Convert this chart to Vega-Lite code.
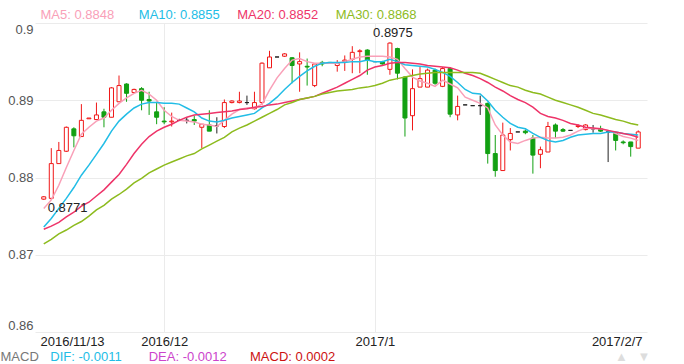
{
  "$schema": "https://vega.github.io/schema/vega-lite/v6.json",
  "width": 612,
  "height": 309,
  "autosize": {"type": "none"},
  "padding": {"left": 35, "top": 23, "right": 37, "bottom": 32},
  "background": "white",
  "config": {
    "view": {"stroke": null},
    "font": "Liberation Sans",
    "axis": {"gridColor": "#ebebeb", "gridWidth": 1, "domain": false, "ticks": false, "labelFontSize": 13, "labelFont": "Liberation Sans", "titleFont": "Liberation Sans"}
  },
  "resolve": {"axis": {"x": "independent"}},
  "datasets": {
    "k": [
      {"i":0,"o":0.8772,"h":0.8776,"l":0.8771,"c":0.8775,"ma5":0.8760,"ma10":0.8736,"ma20":0.8733,"ma30":0.8714},
      {"i":1,"o":0.8773,"h":0.8838,"l":0.8771,"c":0.8818,"ma5":0.8771,"ma10":0.8747,"ma20":0.8737,"ma30":0.8720},
      {"i":2,"o":0.8818,"h":0.8846,"l":0.8818,"c":0.8835,"ma5":0.8790,"ma10":0.8760,"ma20":0.8742,"ma30":0.8727},
      {"i":3,"o":0.8834,"h":0.8866,"l":0.8833,"c":0.8865,"ma5":0.8813,"ma10":0.8773,"ma20":0.8749,"ma30":0.8732},
      {"i":4,"o":0.8863,"h":0.8865,"l":0.8839,"c":0.8854,"ma5":0.8835,"ma10":0.8787,"ma20":0.8755,"ma30":0.8738},
      {"i":5,"o":0.8853,"h":0.8895,"l":0.8853,"c":0.8874,"ma5":0.8856,"ma10":0.8803,"ma20":0.8763,"ma30":0.8743},
      {"i":6,"o":0.8876,"h":0.8877,"l":0.8876,"c":0.8877,"ma5":0.8865,"ma10":0.8816,"ma20":0.8768,"ma30":0.8750},
      {"i":7,"o":0.8875,"h":0.8897,"l":0.8875,"c":0.8881,"ma5":0.8873,"ma10":0.8830,"ma20":0.8776,"ma30":0.8758},
      {"i":8,"o":0.8885,"h":0.8889,"l":0.8865,"c":0.8878,"ma5":0.8877,"ma10":0.8844,"ma20":0.8784,"ma30":0.8764},
      {"i":9,"o":0.8878,"h":0.8917,"l":0.8878,"c":0.8916,"ma5":0.8887,"ma10":0.8860,"ma20":0.8794,"ma30":0.8772},
      {"i":10,"o":0.8898,"h":0.8932,"l":0.8898,"c":0.8919,"ma5":0.8896,"ma10":0.8873,"ma20":0.8804,"ma30":0.8778},
      {"i":11,"o":0.8921,"h":0.8922,"l":0.8898,"c":0.8909,"ma5":0.8903,"ma10":0.8882,"ma20":0.8817,"ma30":0.8785},
      {"i":12,"o":0.8910,"h":0.8915,"l":0.8910,"c":0.8914,"ma5":0.8909,"ma10":0.8890,"ma20":0.8831,"ma30":0.8793},
      {"i":13,"o":0.8915,"h":0.8917,"l":0.8887,"c":0.8900,"ma5":0.8913,"ma10":0.8895,"ma20":0.8843,"ma30":0.8799},
      {"i":14,"o":0.8901,"h":0.8911,"l":0.8881,"c":0.8899,"ma5":0.8908,"ma10":0.8897,"ma20":0.8853,"ma30":0.8806},
      {"i":15,"o":0.8885,"h":0.8898,"l":0.8869,"c":0.8878,"ma5":0.8900,"ma10":0.8897,"ma20":0.8860,"ma30":0.8811},
      {"i":16,"o":0.8873,"h":0.8891,"l":0.8869,"c":0.8872,"ma5":0.8887,"ma10":0.8896,"ma20":0.8865,"ma30":0.8816},
      {"i":17,"o":0.8872,"h":0.8884,"l":0.8866,"c":0.8873,"ma5":0.8879,"ma10":0.8896,"ma20":0.8869,"ma30":0.8820},
      {"i":18,"o":0.8874,"h":0.8876,"l":0.8873,"c":0.8874,"ma5":0.8874,"ma10":0.8895,"ma20":0.8874,"ma30":0.8824},
      {"i":19,"o":0.8874,"h":0.8878,"l":0.8870,"c":0.8874,"ma5":0.8873,"ma10":0.8890,"ma20":0.8878,"ma30":0.8828},
      {"i":20,"o":0.8875,"h":0.8880,"l":0.8868,"c":0.8873,"ma5":0.8872,"ma10":0.8885,"ma20":0.8881,"ma30":0.8831},
      {"i":21,"o":0.8865,"h":0.8869,"l":0.8838,"c":0.8869,"ma5":0.8869,"ma10":0.8877,"ma20":0.8882,"ma30":0.8837},
      {"i":22,"o":0.8868,"h":0.8887,"l":0.8860,"c":0.8860,"ma5":0.8868,"ma10":0.8873,"ma20":0.8883,"ma30":0.8842},
      {"i":23,"o":0.8867,"h":0.8878,"l":0.8857,"c":0.8867,"ma5":0.8866,"ma10":0.8872,"ma20":0.8884,"ma30":0.8847},
      {"i":24,"o":0.8866,"h":0.8901,"l":0.8864,"c":0.8897,"ma5":0.8874,"ma10":0.8874,"ma20":0.8885,"ma30":0.8852},
      {"i":25,"o":0.8897,"h":0.8900,"l":0.8896,"c":0.8899,"ma5":0.8882,"ma10":0.8877,"ma20":0.8886,"ma30":0.8859},
      {"i":26,"o":0.8897,"h":0.8911,"l":0.8896,"c":0.8899,"ma5":0.8888,"ma10":0.8879,"ma20":0.8888,"ma30":0.8864},
      {"i":27,"o":0.8897,"h":0.8906,"l":0.8894,"c":0.8897,"ma5":0.8890,"ma10":0.8881,"ma20":0.8889,"ma30":0.8868},
      {"i":28,"o":0.8889,"h":0.8911,"l":0.8888,"c":0.8897,"ma5":0.8890,"ma10":0.8883,"ma20":0.8891,"ma30":0.8873},
      {"i":29,"o":0.8897,"h":0.8949,"l":0.8894,"c":0.8948,"ma5":0.8895,"ma10":0.8890,"ma20":0.8892,"ma30":0.8878},
      {"i":30,"o":0.8942,"h":0.8964,"l":0.8942,"c":0.8956,"ma5":0.8913,"ma10":0.8896,"ma20":0.8894,"ma30":0.8883},
      {"i":31,"o":0.8956,"h":0.8956,"l":0.8956,"c":0.8956,"ma5":0.8929,"ma10":0.8904,"ma20":0.8895,"ma30":0.8888},
      {"i":32,"o":0.8957,"h":0.8961,"l":0.8956,"c":0.8960,"ma5":0.8941,"ma10":0.8914,"ma20":0.8897,"ma30":0.8894},
      {"i":33,"o":0.8955,"h":0.8956,"l":0.8922,"c":0.8945,"ma5":0.8952,"ma10":0.8923,"ma20":0.8899,"ma30":0.8897},
      {"i":34,"o":0.8947,"h":0.8962,"l":0.8911,"c":0.8950,"ma5":0.8954,"ma10":0.8931,"ma20":0.8901,"ma30":0.8901},
      {"i":35,"o":0.8944,"h":0.8954,"l":0.8919,"c":0.8943,"ma5":0.8950,"ma10":0.8938,"ma20":0.8903,"ma30":0.8903},
      {"i":36,"o":0.8919,"h":0.8948,"l":0.8917,"c":0.8947,"ma5":0.8948,"ma10":0.8944,"ma20":0.8905,"ma30":0.8905},
      {"i":37,"o":0.8949,"h":0.8951,"l":0.8944,"c":0.8947,"ma5":0.8948,"ma10":0.8948,"ma20":0.8909,"ma30":0.8908},
      {"i":38,"o":0.8949,"h":0.8949,"l":0.8947,"c":0.8948,"ma5":0.8948,"ma10":0.8949,"ma20":0.8913,"ma30":0.8910},
      {"i":39,"o":0.8945,"h":0.8952,"l":0.8937,"c":0.8948,"ma5":0.8948,"ma10":0.8949,"ma20":0.8917,"ma30":0.8912},
      {"i":40,"o":0.8950,"h":0.8958,"l":0.8938,"c":0.8952,"ma5":0.8950,"ma10":0.8949,"ma20":0.8922,"ma30":0.8913},
      {"i":41,"o":0.8953,"h":0.8970,"l":0.8935,"c":0.8962,"ma5":0.8953,"ma10":0.8950,"ma20":0.8927,"ma30":0.8914},
      {"i":42,"o":0.8963,"h":0.8966,"l":0.8935,"c":0.8964,"ma5":0.8956,"ma10":0.8950,"ma20":0.8932,"ma30":0.8916},
      {"i":43,"o":0.8965,"h":0.8966,"l":0.8933,"c":0.8952,"ma5":0.8957,"ma10":0.8952,"ma20":0.8939,"ma30":0.8917},
      {"i":44,"o":0.8950,"h":0.8950,"l":0.8950,"c":0.8950,"ma5":0.8957,"ma10":0.8950,"ma20":0.8943,"ma30":0.8919},
      {"i":45,"o":0.8950,"h":0.8951,"l":0.8946,"c":0.8947,"ma5":0.8957,"ma10":0.8950,"ma20":0.8945,"ma30":0.8922},
      {"i":46,"o":0.8940,"h":0.8975,"l":0.8933,"c":0.8974,"ma5":0.8956,"ma10":0.8953,"ma20":0.8948,"ma30":0.8926},
      {"i":47,"o":0.8967,"h":0.8968,"l":0.8927,"c":0.8935,"ma5":0.8953,"ma10":0.8950,"ma20":0.8949,"ma30":0.8928},
      {"i":48,"o":0.8930,"h":0.8931,"l":0.8853,"c":0.8877,"ma5":0.8941,"ma10":0.8946,"ma20":0.8949,"ma30":0.8930},
      {"i":49,"o":0.8880,"h":0.8940,"l":0.8861,"c":0.8915,"ma5":0.8930,"ma10":0.8945,"ma20":0.8948,"ma30":0.8932},
      {"i":50,"o":0.8917,"h":0.8943,"l":0.8917,"c":0.8928,"ma5":0.8925,"ma10":0.8944,"ma20":0.8947,"ma30":0.8934},
      {"i":51,"o":0.8917,"h":0.8941,"l":0.8917,"c":0.8939,"ma5":0.8922,"ma10":0.8943,"ma20":0.8945,"ma30":0.8935},
      {"i":52,"o":0.8939,"h":0.8941,"l":0.8920,"c":0.8922,"ma5":0.8918,"ma10":0.8940,"ma20":0.8944,"ma30":0.8936},
      {"i":53,"o":0.8918,"h":0.8943,"l":0.8917,"c":0.8941,"ma5":0.8926,"ma10":0.8936,"ma20":0.8943,"ma30":0.8936},
      {"i":54,"o":0.8941,"h":0.8943,"l":0.8878,"c":0.8882,"ma5":0.8921,"ma10":0.8931,"ma20":0.8942,"ma30":0.8936},
      {"i":55,"o":0.8881,"h":0.8906,"l":0.8874,"c":0.8892,"ma5":0.8916,"ma10":0.8923,"ma20":0.8939,"ma30":0.8936},
      {"i":56,"o":0.8894,"h":0.8894,"l":0.8894,"c":0.8894,"ma5":0.8904,"ma10":0.8914,"ma20":0.8935,"ma30":0.8936},
      {"i":57,"o":0.8893,"h":0.8893,"l":0.8893,"c":0.8893,"ma5":0.8900,"ma10":0.8909,"ma20":0.8932,"ma30":0.8936},
      {"i":58,"o":0.8893,"h":0.8906,"l":0.8881,"c":0.8893,"ma5":0.8896,"ma10":0.8908,"ma20":0.8928,"ma30":0.8935},
      {"i":59,"o":0.8896,"h":0.8897,"l":0.8818,"c":0.8831,"ma5":0.8890,"ma10":0.8899,"ma20":0.8923,"ma30":0.8931},
      {"i":60,"o":0.8831,"h":0.8855,"l":0.8801,"c":0.8809,"ma5":0.8868,"ma10":0.8887,"ma20":0.8917,"ma30":0.8927},
      {"i":61,"o":0.8809,"h":0.8871,"l":0.8809,"c":0.8855,"ma5":0.8855,"ma10":0.8878,"ma20":0.8912,"ma30":0.8923},
      {"i":62,"o":0.8849,"h":0.8864,"l":0.8835,"c":0.8857,"ma5":0.8846,"ma10":0.8870,"ma20":0.8906,"ma30":0.8919},
      {"i":63,"o":0.8859,"h":0.8859,"l":0.8859,"c":0.8859,"ma5":0.8844,"ma10":0.8865,"ma20":0.8901,"ma30":0.8917},
      {"i":64,"o":0.8860,"h":0.8862,"l":0.8856,"c":0.8858,"ma5":0.8848,"ma10":0.8863,"ma20":0.8897,"ma30":0.8913},
      {"i":65,"o":0.8851,"h":0.8855,"l":0.8805,"c":0.8829,"ma5":0.8851,"ma10":0.8857,"ma20":0.8891,"ma30":0.8910},
      {"i":66,"o":0.8830,"h":0.8840,"l":0.8812,"c":0.8836,"ma5":0.8852,"ma10":0.8852,"ma20":0.8883,"ma30":0.8908},
      {"i":67,"o":0.8833,"h":0.8872,"l":0.8833,"c":0.8866,"ma5":0.8851,"ma10":0.8848,"ma20":0.8879,"ma30":0.8904},
      {"i":68,"o":0.8868,"h":0.8870,"l":0.8851,"c":0.8860,"ma5":0.8851,"ma10":0.8846,"ma20":0.8877,"ma30":0.8900},
      {"i":69,"o":0.8862,"h":0.8864,"l":0.8859,"c":0.8860,"ma5":0.8852,"ma10":0.8848,"ma20":0.8874,"ma30":0.8897},
      {"i":70,"o":0.8861,"h":0.8861,"l":0.8861,"c":0.8861,"ma5":0.8855,"ma10":0.8852,"ma20":0.8870,"ma30":0.8894},
      {"i":71,"o":0.8866,"h":0.8869,"l":0.8864,"c":0.8867,"ma5":0.8860,"ma10":0.8855,"ma20":0.8868,"ma30":0.8891},
      {"i":72,"o":0.8862,"h":0.8869,"l":0.8861,"c":0.8868,"ma5":0.8864,"ma10":0.8856,"ma20":0.8865,"ma30":0.8887},
      {"i":73,"o":0.8863,"h":0.8868,"l":0.8858,"c":0.8863,"ma5":0.8863,"ma10":0.8857,"ma20":0.8864,"ma30":0.8883},
      {"i":74,"o":0.8863,"h":0.8867,"l":0.8859,"c":0.8860,"ma5":0.8863,"ma10":0.8857,"ma20":0.8863,"ma30":0.8881},
      {"i":75,"o":0.8859,"h":0.8860,"l":0.8820,"c":0.8859,"ma5":0.8861,"ma10":0.8859,"ma20":0.8861,"ma30":0.8878},
      {"i":76,"o":0.8857,"h":0.8859,"l":0.8835,"c":0.8848,"ma5":0.8857,"ma10":0.8859,"ma20":0.8859,"ma30":0.8875},
      {"i":77,"o":0.8846,"h":0.8848,"l":0.8843,"c":0.8845,"ma5":0.8853,"ma10":0.8857,"ma20":0.8857,"ma30":0.8873},
      {"i":78,"o":0.8846,"h":0.8846,"l":0.8827,"c":0.8840,"ma5":0.8851,"ma10":0.8856,"ma20":0.8855,"ma30":0.8870},
      {"i":79,"o":0.8838,"h":0.8861,"l":0.8838,"c":0.8859,"ma5":0.8848,"ma10":0.8855,"ma20":0.8852,"ma30":0.8868}
    ]
  },
  "layer": [
    {
      "data": {"name": "k"},
      "encoding": {
        "x": {
          "field": "i", "type": "quantitative", "title": null,
          "scale": {"domain": [-0.5, 79.5], "nice": false, "zero": false},
          "axis": {
            "title": null,
            "values": [-0.5, 16, 44, 79.5],
            "labelExpr": "datum.value < 0 ? '2016/11/13' : datum.value < 20 ? '2016/12' : datum.value < 50 ? '2017/1' : '2017/2/7'",
            "labelFlush": false,
            "labelOverlap": false,
            "labelAlign": {"condition": [{"test": "datum.value < 0", "value": "left"}, {"test": "datum.value > 79", "value": "right"}], "value": "center"},
            "labelPadding": 3,
            "labelColor": "#222222",
            "grid": true,
            "gridOpacity": {"condition": {"test": "datum.value < 0 || datum.value > 79", "value": 0}, "value": 1}
          }
        }
      },
      "layer": [
        {
          "mark": {"type": "rule", "strokeWidth": 1},
          "encoding": {
            "y": {
              "field": "l", "type": "quantitative", "title": null,
              "scale": {"domain": [0.86, 0.9], "nice": false, "zero": false},
              "axis": {"title": null, "values": [0.86, 0.87, 0.88, 0.89, 0.9], "format": ".2~f", "labelFlush": true, "labelPadding": 2, "labelColor": "#555555", "grid": true}
            },
            "y2": {"field": "h"},
            "stroke": {"condition": [{"test": "datum.c > datum.o", "value": "#f01818"}, {"test": "datum.c < datum.o", "value": "#12a012"}], "value": "#222222"}
          }
        },
        {
          "mark": {"type": "bar", "width": 4, "strokeWidth": 1},
          "encoding": {
            "y": {"field": "o", "type": "quantitative", "title": null, "scale": {"domain": [0.86, 0.9], "nice": false, "zero": false}},
            "y2": {"field": "c"},
            "fill": {"condition": {"test": "datum.c > datum.o", "value": "#ffffff"}, "value": "#12a012"},
            "stroke": {"condition": [{"test": "datum.c > datum.o", "value": "#f01818"}, {"test": "datum.c < datum.o", "value": "#12a012"}], "value": "#222222"}
          }
        }
      ]
    },
    {
      "data": {"name": "k"},
      "transform": [{"fold": ["ma5", "ma10", "ma20", "ma30"], "as": ["s", "v"]}],
      "mark": {"type": "line", "strokeWidth": 1.5},
      "encoding": {
        "x": {
          "field": "i", "type": "quantitative", "title": null,
          "axis": {
            "orient": "top", "title": null,
            "values": [-0.5, 12.57, 25.64, 38.72],
            "labelExpr": "datum.value < 0 ? 'MA5: 0.8848' : datum.value < 20 ? 'MA10: 0.8855' : datum.value < 30 ? 'MA20: 0.8852' : 'MA30: 0.8868'",
            "labelAlign": "left", "labelBaseline": "middle", "labelPadding": 9,
            "labelFlush": false, "labelOverlap": false, "labelBound": false,
            "grid": false,
            "labelColor": {"condition": [{"test": "datum.value < 0", "value": "#f9a0b8"}, {"test": "datum.value < 20", "value": "#22bde6"}, {"test": "datum.value < 30", "value": "#ee3469"}], "value": "#8dbb1e"}
          }
        },
        "y": {"field": "v", "type": "quantitative", "title": null, "scale": {"domain": [0.86, 0.9], "nice": false, "zero": false}},
        "color": {
          "field": "s", "type": "nominal",
          "scale": {"domain": ["ma5", "ma10", "ma20", "ma30"], "range": ["#f9a0b8", "#22bde6", "#ee3469", "#8dbb1e"]},
          "legend": null
        }
      }
    },
    {
      "data": {"values": [{"i": 0, "v": 0.8771, "t": "0.8771"}]},
      "mark": {"type": "text", "align": "left", "baseline": "middle", "dx": 4, "dy": 8, "fontSize": 13, "color": "#222222"},
      "encoding": {
        "x": {"field": "i", "type": "quantitative", "title": null, "axis": null},
        "y": {"field": "v", "type": "quantitative", "title": null, "scale": {"domain": [0.86, 0.9], "nice": false, "zero": false}},
        "text": {"field": "t"}
      }
    },
    {
      "data": {"values": [{"i": 46, "v": 0.8975, "t": "0.8975"}]},
      "mark": {"type": "text", "align": "center", "baseline": "middle", "dx": 3, "dy": -9, "fontSize": 13, "color": "#222222"},
      "encoding": {
        "x": {
          "field": "i", "type": "quantitative",
          "axis": {
            "orient": "bottom", "offset": 15,
            "title": "MACD", "titleX": -35, "titleY": 3, "titleAlign": "left", "titleBaseline": "top", "titleAngle": 0,
            "titleColor": "#777777", "titleFontSize": 13, "titleFontWeight": "normal",
            "values": [0.807, 13.88, 27.34, 75.84, 78.85],
            "labelExpr": "datum.value < 5 ? 'DIF: -0.0011' : datum.value < 20 ? 'DEA: -0.0012' : datum.value < 50 ? 'MACD: 0.0002' : datum.value < 77 ? '▲' : '▼'",
            "labelAlign": "left", "labelPadding": 3,
            "labelFlush": false, "labelOverlap": false, "labelBound": false,
            "grid": false,
            "labelColor": {"condition": [{"test": "datum.value < 5", "value": "#22bde6"}, {"test": "datum.value < 20", "value": "#cc44cc"}, {"test": "datum.value < 50", "value": "#cc1111"}], "value": "#dddddd"}
          }
        },
        "y": {"field": "v", "type": "quantitative", "title": null, "scale": {"domain": [0.86, 0.9], "nice": false, "zero": false}},
        "text": {"field": "t"}
      }
    }
  ]
}
